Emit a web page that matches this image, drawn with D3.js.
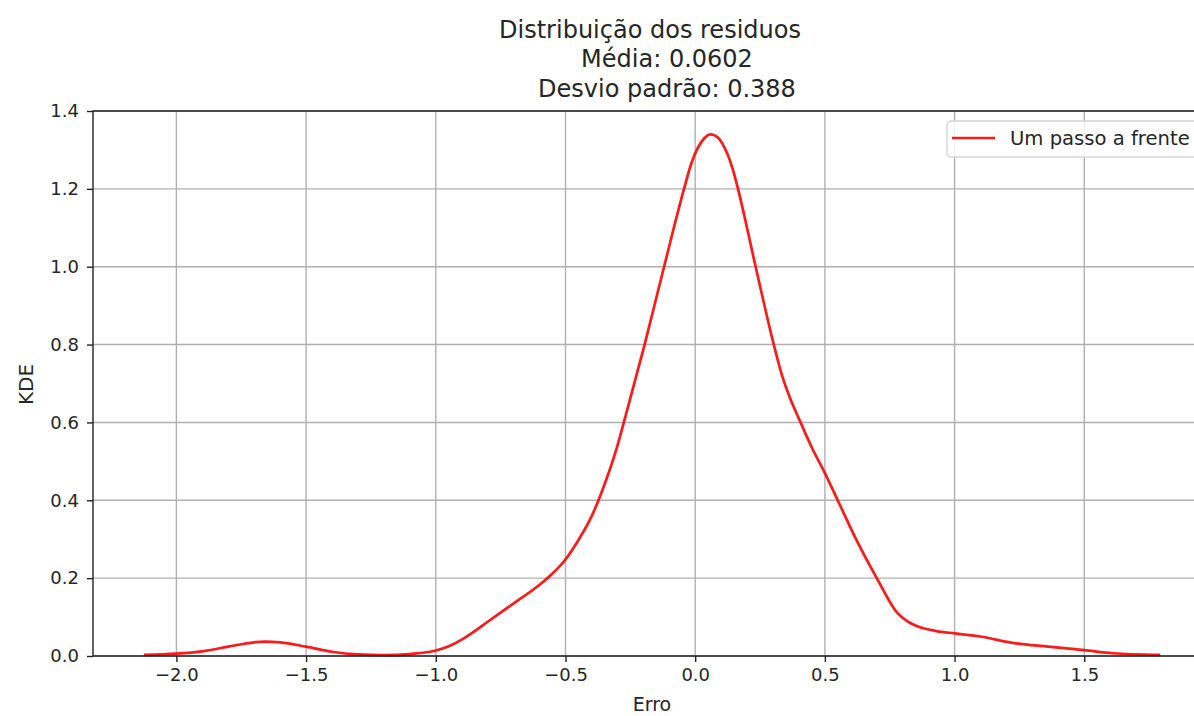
<!DOCTYPE html>
<html>
<head>
<meta charset="utf-8">
<script src="https://cdn.jsdelivr.net/npm/d3@7"></script>
<style>
  body { margin: 0; background: #fff; }
  svg { font-family: "DejaVu Sans", sans-serif; }
</style>
</head>
<body>
<div id="chart"></div>
<script>
// values
let erro = [-2.125, -2.0, -1.9, -1.8, -1.7, -1.66, -1.6, -1.5, -1.4, -1.3, -1.2, -1.1, -1.0, -0.95, -0.9, -0.85, -0.8, -0.7, -0.6, -0.55, -0.5, -0.45, -0.4, -0.35, -0.3, -0.275, -0.195, -0.12, -0.043, -0.015, 0.01, 0.035, 0.06, 0.085, 0.11, 0.124, 0.145, 0.165, 0.233, 0.303, 0.335, 0.367, 0.403, 0.45, 0.5, 0.553, 0.62, 0.7, 0.78, 0.82, 0.87, 0.93, 1.0, 1.1, 1.23, 1.36, 1.5, 1.61, 1.793];
let kde = [0.003, 0.006, 0.012, 0.024, 0.035, 0.037, 0.035, 0.024, 0.011, 0.004, 0.002, 0.005, 0.014, 0.025, 0.042, 0.064, 0.088, 0.135, 0.183, 0.212, 0.248, 0.298, 0.358, 0.44, 0.54, 0.60, 0.80, 1.00, 1.20, 1.265, 1.305, 1.33, 1.34, 1.333, 1.31, 1.29, 1.25, 1.20, 1.00, 0.80, 0.72, 0.66, 0.605, 0.535, 0.47, 0.395, 0.30, 0.20, 0.11, 0.088, 0.073, 0.064, 0.058, 0.05, 0.033, 0.024, 0.015, 0.007, 0.003];
let xTicks = [-2.0, -1.5, -1.0, -0.5, 0.0, 0.5, 1.0, 1.5];
let yTicks = [0.0, 0.2, 0.4, 0.6, 0.8, 1.0, 1.2, 1.4];
let titleLines = ["Distribuição dos residuos", "Média: 0.0602", "Desvio padrão: 0.388"];
let seriesName = "Um passo a frente";

let data = erro.map((d, i) => ({x: d, y: kde[i]}));

let width = 1194, height = 716;
let mLeft = 93, mRight = 1211, mTop = 111, mBottom = 656;

let svg = d3.select("#chart")
    .append("svg")
    .attr("width", width)
    .attr("height", height);

let x = d3.scaleLinear()
    .domain([-2.3215, 1.9885])
    .range([mLeft, mRight]);

let y = d3.scaleLinear()
    .domain([0, 1.4])
    .range([mBottom, mTop]);

// grid
svg.append("g")
    .selectAll("line")
    .data(xTicks)
    .join("line")
    .attr("x1", d => x(d)).attr("x2", d => x(d))
    .attr("y1", mTop).attr("y2", mBottom)
    .attr("stroke", "#b0b0b0")
    .attr("stroke-width", 1.4);

svg.append("g")
    .selectAll("line")
    .data(yTicks)
    .join("line")
    .attr("x1", mLeft).attr("x2", mRight)
    .attr("y1", d => y(d)).attr("y2", d => y(d))
    .attr("stroke", "#b0b0b0")
    .attr("stroke-width", 1.4);

// curve
svg.append("path")
    .datum(data)
    .attr("fill", "none")
    .attr("stroke", "red")
    .attr("stroke-opacity", 0.9)
    .attr("stroke-width", 2.7)
    .attr("d", d3.line()
        .x(d => x(d.x))
        .y(d => y(d.y))
        .curve(d3.curveMonotoneX));

// axes
let xAxis = svg.append("g")
    .attr("transform", "translate(0," + mBottom + ")")
    .call(d3.axisBottom(x).tickValues(xTicks).tickFormat(d => d3.format(".1f")(d).replace("-", "\u2212")).tickSize(6).tickPadding(6));

let yAxis = svg.append("g")
    .attr("transform", "translate(" + mLeft + ",0)")
    .call(d3.axisLeft(y).tickValues(yTicks).tickFormat(d3.format(".1f")).tickSize(6).tickPadding(8));

[xAxis, yAxis].forEach(function(a) {
    a.select(".domain").remove();
    a.selectAll(".tick line").attr("stroke", "#222").attr("stroke-width", 1.4);
    a.selectAll(".tick text").attr("fill", "#262626").style("font-size", "18px").style("font-family", "DejaVu Sans");
});

// spines
svg.append("path")
    .attr("d", "M" + mRight + "," + mTop + "H" + mLeft + "V" + mBottom + "H" + mRight)
    .attr("fill", "none")
    .attr("stroke", "#222")
    .attr("stroke-width", 1.4);

// labels
svg.append("text")
    .attr("x", (mLeft + mRight) / 2)
    .attr("y", 711)
    .attr("text-anchor", "middle")
    .attr("fill", "#262626")
    .style("font-size", "19px")
    .text("Erro");

svg.append("text")
    .attr("transform", "translate(33," + ((mTop + mBottom) / 2 + 1) + ") rotate(-90)")
    .attr("text-anchor", "middle")
    .attr("fill", "#262626")
    .style("font-size", "20px")
    .text("KDE");

svg.append("g")
    .selectAll("text")
    .data(titleLines)
    .join("text")
    .attr("x", (d, i) => i == 0 ? 650 : 667)
    .attr("y", (d, i) => 37.5 + i * 29.8)
    .attr("text-anchor", "middle")
    .attr("fill", "#262626")
    .style("font-size", "24px")
    .text(d => d);

// legend
let lg = svg.append("g");
lg.append("rect")
    .attr("x", 947).attr("y", 121)
    .attr("width", 255).attr("height", 36)
    .attr("rx", 4)
    .attr("fill", "white")
    .attr("fill-opacity", 0.8)
    .attr("stroke", "#d5d5d5")
    .attr("stroke-width", 1.4);
lg.append("line")
    .attr("x1", 952).attr("x2", 995)
    .attr("y1", 138).attr("y2", 138)
    .attr("stroke", "red")
    .attr("stroke-opacity", 0.9)
    .attr("stroke-width", 2.7);
lg.append("text")
    .attr("x", 1010).attr("y", 145)
    .attr("fill", "#262626")
    .style("font-size", "19.6px")
    .text(seriesName);
</script>
</body>
</html>
